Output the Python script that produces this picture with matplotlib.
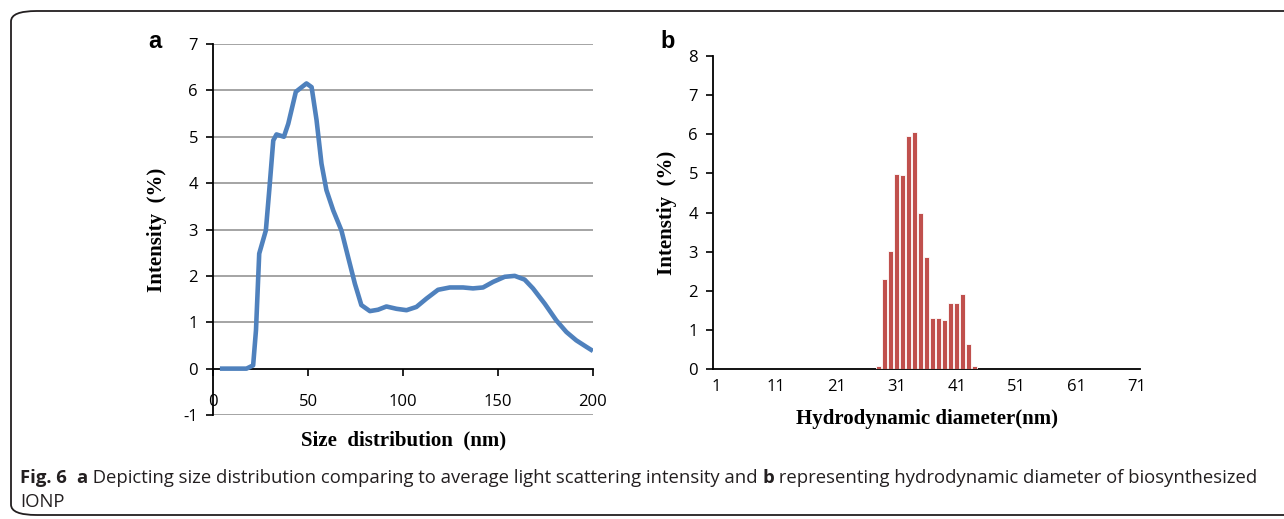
import matplotlib
matplotlib.use('Agg')
import matplotlib.pyplot as plt
from matplotlib.patches import FancyBboxPatch

plt.rcParams['axes.unicode_minus'] = False

# panel a: size distribution curve
size_nm = [3.5, 17.5, 21, 22.5, 24.2, 27.7, 29.5, 31.6, 33.3, 37.2, 39.5, 43.5,
           49.1, 51.8, 54.4, 57, 59.6, 63.2, 67.5, 71, 74.6, 78, 82.5, 86.8,
           91.2, 96.5, 101.8, 107, 112.3, 118.4, 124.6, 131.6, 136.8, 142.1,
           147.4, 153.5, 158.8, 164, 168.4, 174.6, 180.7, 186, 191.2, 196.5, 200]
intensity_a = [0, 0, 0.07, 0.83, 2.48, 2.98, 3.85, 4.92, 5.05, 5.0, 5.28, 5.97,
               6.15, 6.07, 5.36, 4.42, 3.85, 3.41, 2.98, 2.41, 1.83, 1.37, 1.24, 1.27,
               1.34, 1.29, 1.26, 1.33, 1.51, 1.70, 1.75, 1.75, 1.73, 1.75,
               1.87, 1.98, 2.0, 1.92, 1.73, 1.40, 1.04, 0.79, 0.61, 0.47, 0.38]

# panel b: hydrodynamic diameter histogram
diam_nm = list(range(28, 45))
intensity_b = [0.08, 2.30, 3.03, 4.98, 4.97, 5.94, 6.06, 3.99, 2.86, 1.31, 1.31,
               1.25, 1.68, 1.70, 1.91, 0.64, 0.08]
xticks_b = [1, 11, 21, 31, 41, 51, 61, 71]

caption_parts = [('Fig. 6  ', 'bold'), ('a', 'bold'),
                 (' Depicting size distribution comparing to average light scattering intensity and ', 'normal'),
                 ('b', 'bold'),
                 (' representing hydrodynamic diameter of biosynthesized', 'normal')]
caption_line2 = 'IONP'

TICK_FONT = dict(family='Open Sans', size=12)
LABEL_FONT = dict(family='Liberation Serif', size=15, weight='bold')
CAP_FONT = dict(family='Open Sans', size=13.3, color='#231f20')

fig = plt.figure(figsize=(12.84, 5.19), dpi=100)

# rounded frame around the figure
frame = FancyBboxPatch((11 / 1284, 4 / 519), 1.2, 504 / 519,
                       boxstyle='round,pad=0,rounding_size=0.02',
                       transform=fig.transFigure, fill=False,
                       edgecolor='#231f20', linewidth=1.3, clip_on=False)
fig.patches.append(frame)

# ---- panel a ----
ax = fig.add_axes([0.1661, 0.2004, 0.2957, 0.7148])
ax.set_xlim(0, 200)
ax.set_ylim(-1, 7)
for y in range(-1, 8):
    if y != 0:
        ax.axhline(y, color='#8c8c8c', lw=1.1, zorder=0)
ax.plot(size_nm, intensity_a, color='#4f81bd', lw=3.3,
        solid_joinstyle='round', solid_capstyle='butt', zorder=3)
for s in ['top', 'right']:
    ax.spines[s].set_visible(False)
ax.spines['bottom'].set_position(('data', 0))
ax.spines['left'].set_linewidth(1.3)
ax.spines['bottom'].set_linewidth(1.3)
ax.set_xticks([0, 50, 100, 150, 200])
ax.set_yticks(range(-1, 8))
ax.tick_params(axis='x', direction='out', length=5, width=1.2, pad=13)
ax.tick_params(axis='y', direction='out', length=5, width=1.2, pad=6)
for lab in ax.get_xticklabels() + ax.get_yticklabels():
    lab.set_fontfamily(TICK_FONT['family'])
    lab.set_fontsize(TICK_FONT['size'])
ax.set_xlabel('Size  distribution  (nm)', **LABEL_FONT)
ax.xaxis.set_label_coords(0.5, -0.042)
ax.set_ylabel('Intensity  (%)', **LABEL_FONT)
ax.yaxis.set_label_coords(-0.121, 0.5)
fig.text(155 / 1284, 1 - 42 / 519, 'a', family='Liberation Sans', weight='bold',
         size=17, ha='center', va='center')

# ---- panel b ----
bx = fig.add_axes([0.5555, 0.2884, 0.3323, 0.6042])
bx.set_xlim(0.5, 71.5)
bx.set_ylim(0, 8)
bx.bar(diam_nm, intensity_b, width=0.82, color='#c0504d', edgecolor='white',
       linewidth=0.6, zorder=3)
for s in ['top', 'right']:
    bx.spines[s].set_visible(False)
bx.spines['left'].set_linewidth(1.3)
bx.spines['bottom'].set_linewidth(1.3)
bx.set_xticks(xticks_b)
bx.set_yticks(range(0, 9))
bx.tick_params(axis='x', length=0, pad=7)
bx.tick_params(axis='y', direction='out', length=5, width=1.2, pad=6)
for lab in bx.get_xticklabels() + bx.get_yticklabels():
    lab.set_fontfamily(TICK_FONT['family'])
    lab.set_fontsize(TICK_FONT['size'])
bx.set_xlabel('Hydrodynamic diameter(nm)', **LABEL_FONT)
bx.xaxis.set_label_coords(0.5, -0.128)
bx.set_ylabel('Intenstiy  (%)', **LABEL_FONT)
bx.yaxis.set_label_coords(-0.085, 0.5)
fig.text(668 / 1284, 1 - 42 / 519, 'b', family='Liberation Sans', weight='bold',
         size=17, ha='center', va='center')

# ---- caption (mixed bold / regular pieces placed one after another) ----
renderer = fig.canvas.get_renderer()
y_fig = 1 - 487 / 519
x_px = 20
for txt, w in caption_parts:
    t = fig.text(x_px / fig.bbox.width, y_fig, txt, weight=w, va='bottom',
                 ha='left', **CAP_FONT)
    x_px = t.get_window_extent(renderer).x1
fig.text(20 / 1284, 1 - 511 / 519, caption_line2, va='bottom', ha='left', **CAP_FONT)

fig.savefig('out.png', dpi=100)
